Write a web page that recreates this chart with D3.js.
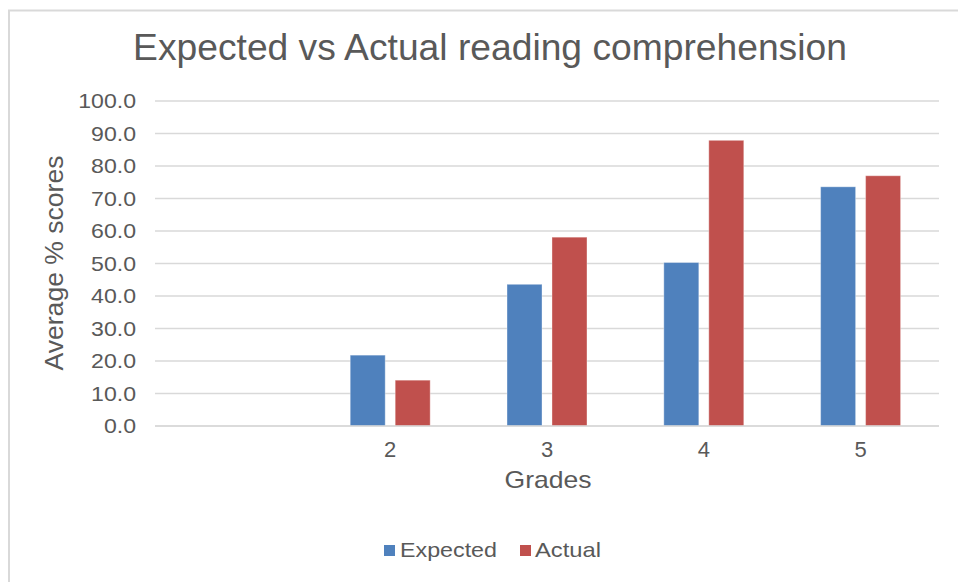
<!DOCTYPE html>
<html>
<head>
<meta charset="utf-8">
<script src="https://cdn.jsdelivr.net/npm/d3@7"></script>
<style>
  html, body { margin: 0; padding: 0; background: #fff; }
  svg { display: block; font-family: "Liberation Sans", Arial, Helvetica, sans-serif; }
</style>
</head>
<body>
<svg id="chart" width="958" height="582"></svg>
<script>
const title = "Expected vs Actual reading comprehension";
const categories = ["", "2", "3", "4", "5"];
const seriesNames = ["Expected", "Actual"];
const expected = [null, 21.8, 43.6, 50.3, 73.6];
const actual = [null, 14.1, 58.1, 87.9, 77.0];
const yTicks = [0, 10, 20, 30, 40, 50, 60, 70, 80, 90, 100];
const colors = ["#4F81BD", "#C0504D"];
const xTitle = "Grades";
const yTitle = "Average % scores";

const svg = d3.select("#chart");
const textColor = "#595959";

// stretch a text element horizontally by factor k (reference font is wider than Arial)
function widen(sel, k) {
  sel.each(function() {
    const w = this.getComputedTextLength();
    d3.select(this).attr("textLength", w * k).attr("lengthAdjust", "spacingAndGlyphs");
  });
}
function fitWidth(sel, target) {
  const w = sel.node().getComputedTextLength();
  sel.attr("textLength", target).attr("lengthAdjust", "spacingAndGlyphs");
}

// chart frame (only left/top edges visible)
svg.append("rect").attr("x", 9).attr("y", 10.5).attr("width", 970).attr("height", 600)
  .attr("fill", "#fff").attr("stroke", "#d9d9d9").attr("stroke-width", 2);

const x = d3.scaleBand().domain(categories).range([155, 939]).padding(0);
const y = d3.scaleLinear().domain([0, 100]).range([426, 101]);
const bw = x.bandwidth();
const xInner = d3.scaleBand().domain(seriesNames)
  .range([bw * 0.245, bw * 0.755]).paddingInner(0.222).paddingOuter(0);

// gridlines
svg.append("g").selectAll("line").data(yTicks).join("line")
  .attr("x1", 155).attr("x2", 939)
  .attr("y1", d => y(d)).attr("y2", d => y(d))
  .attr("stroke", "#d9d9d9").attr("stroke-width", 1.5);

// y axis labels
const yAxis = d3.axisLeft(y).tickValues(yTicks).tickFormat(d3.format(".1f")).tickSize(0).tickPadding(0);
const gy = svg.append("g").attr("transform", "translate(136,0)").call(yAxis);
gy.select(".domain").remove();
gy.selectAll("text").attr("fill", textColor).attr("font-size", 21)
  .attr("font-family", "'Liberation Sans', Arial, sans-serif");
widen(gy.selectAll("text"), 1.1);

// bars
const data = categories.map((c, i) => ({ c, vals: [expected[i], actual[i]] }));
const groups = svg.append("g").selectAll("g").data(data).join("g")
  .attr("transform", d => `translate(${x(d.c)},0)`);
groups.selectAll("rect")
  .data(d => d.vals.map((v, j) => ({ v, s: seriesNames[j], j })).filter(e => e.v != null))
  .join("rect")
  .attr("x", e => xInner(e.s))
  .attr("width", xInner.bandwidth())
  .attr("y", e => y(e.v))
  .attr("height", e => y(0) - y(e.v))
  .attr("fill", e => colors[e.j])
  .attr("stroke", "#ffffff").attr("stroke-opacity", 0.35).attr("stroke-width", 1);

// baseline axis line
svg.append("line").attr("x1", 155).attr("x2", 939).attr("y1", y(0)).attr("y2", y(0))
  .attr("stroke", "#d9d9d9").attr("stroke-width", 1.5);

// x axis labels
const xAxis = d3.axisBottom(x).tickSize(0).tickPadding(0);
const gx = svg.append("g").attr("transform", `translate(0,${y(0)})`).call(xAxis);
gx.select(".domain").remove();
gx.selectAll("text").attr("fill", textColor).attr("font-size", 22)
  .attr("dy", null).attr("y", 31)
  .attr("font-family", "'Liberation Sans', Arial, sans-serif");

// axis titles
const xt = svg.append("text").attr("x", 548).attr("y", 488).attr("text-anchor", "middle")
  .attr("fill", textColor).attr("font-size", 24).text(xTitle);
fitWidth(xt, 87);
const yt = svg.append("text").attr("transform", "translate(63,263) rotate(-90)").attr("text-anchor", "middle")
  .attr("fill", textColor).attr("font-size", 25).text(yTitle);
fitWidth(yt, 215);

// title fitted to reference width
const t = svg.append("text").attr("x", 490).attr("y", 60).attr("text-anchor", "middle")
  .attr("fill", textColor).attr("font-size", 32).text(title);
const tw = t.node().getComputedTextLength();
t.attr("font-size", 32 * 714 / tw);

// legend
const legend = svg.append("g");
const legendItems = [
  { name: seriesNames[0], color: colors[0], sx: 384, tx: 400, w: 97 },
  { name: seriesNames[1], color: colors[1], sx: 520, tx: 535, w: 66 }
];
legend.selectAll("rect").data(legendItems).join("rect")
  .attr("x", d => d.sx).attr("y", 545).attr("width", 11).attr("height", 11)
  .attr("fill", d => d.color);
legend.selectAll("text").data(legendItems).join("text")
  .attr("x", d => d.tx).attr("y", 557).attr("fill", textColor).attr("font-size", 21)
  .attr("textLength", d => d.w).attr("lengthAdjust", "spacingAndGlyphs")
  .text(d => d.name);
</script>
</body>
</html>
